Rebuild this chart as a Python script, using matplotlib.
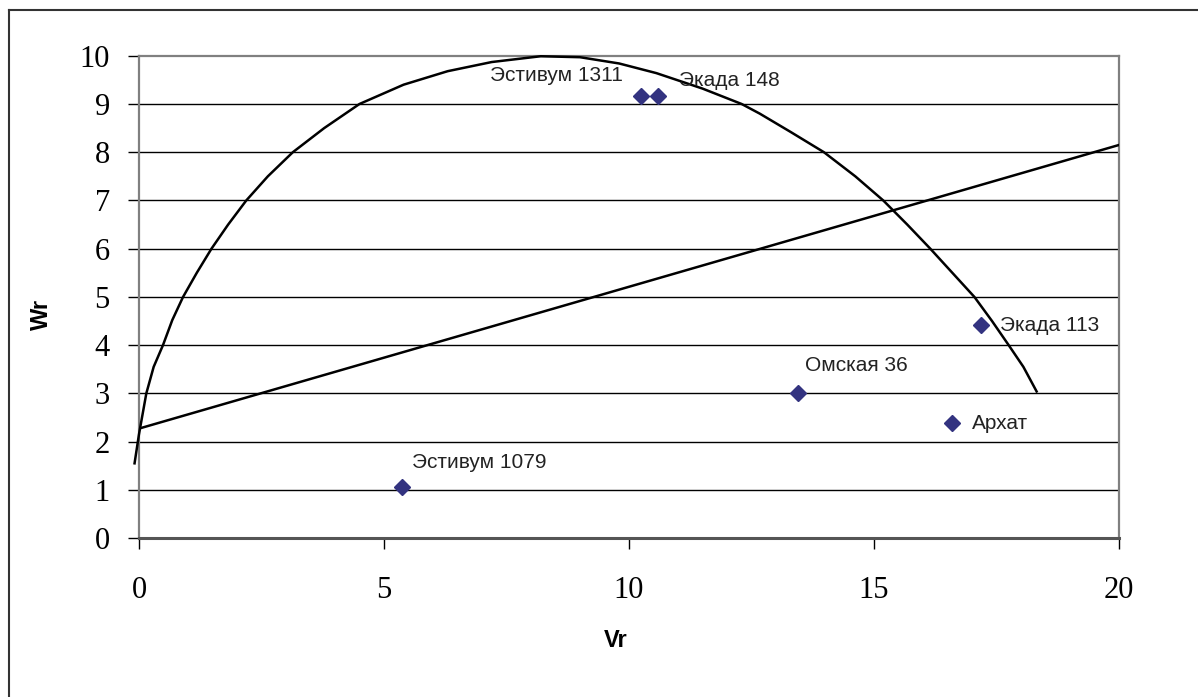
import matplotlib
matplotlib.use("Agg")
import matplotlib.pyplot as plt
from matplotlib.lines import Line2D

# ---- data ----
names = ["Эстивум 1079", "Эстивум 1311", "Экада 148", "Омская 36", "Архат", "Экада 113"]
vr = [5.37, 10.25, 10.6, 13.45, 16.6, 17.18]
wr = [1.05, 9.17, 9.17, 3.0, 2.38, 4.41]
# label offsets (points) and alignment for each name
label_pos = [((7, 11), "left", "bottom"),
             ((-13, 8), "right", "bottom"),
             ((15, 4), "left", "bottom"),
             ((5, 13), "left", "bottom"),
             ((14, 0), "left", "center"),
             ((14, 0), "left", "center")]

# regression line ends
line_x = [0, 20]
line_y = [2.27, 8.15]

# limiting curve, points
curve_x = [-0.09, 0.0, 0.15, 0.30, 0.49, 0.68, 0.90, 1.18, 1.48, 1.82, 2.19, 2.63,
           3.14, 3.78, 4.50, 5.40, 6.30, 7.20, 8.20, 9.00, 9.80, 10.56, 11.50,
           12.30, 12.67, 13.30, 13.98, 14.62, 15.19, 15.68, 16.15, 16.60, 17.05,
           17.41, 17.75, 18.05, 18.32]
curve_y = [1.55, 2.15, 3.0, 3.55, 4.0, 4.52, 5.0, 5.5, 6.0, 6.5, 7.0, 7.5,
           8.0, 8.5, 9.0, 9.4, 9.68, 9.87, 9.99, 9.97, 9.84, 9.64, 9.32,
           9.0, 8.8, 8.42, 8.0, 7.5, 7.0, 6.5, 6.0, 5.5, 5.0,
           4.5, 4.0, 3.55, 3.04]

x_ticks = [0, 5, 10, 15, 20]
y_ticks = list(range(0, 11))

# ================================== figure ==================================
fig = plt.figure(figsize=(11.98, 6.97), dpi=100)
ax = fig.add_axes([0.116, 0.228, 0.818, 0.692])

ax.set_xlim(0, 20)
ax.set_ylim(0, 10)

# horizontal grid
for yv in y_ticks[1:-1]:
    ax.axhline(yv, color="black", lw=1.0, zorder=1)

ax.plot(curve_x, curve_y, color="black", lw=1.8, clip_on=False, zorder=3,
        solid_joinstyle="round")
ax.plot(line_x, line_y, color="black", lw=1.8, zorder=3)
ax.plot(vr, wr, linestyle="none", marker="D", markersize=8,
        color="#333380", zorder=4)

for n, x, y, (off, ha, va) in zip(names, vr, wr, label_pos):
    ax.annotate(n, (x, y), xytext=off, textcoords="offset points",
                ha=ha, va=va, fontsize=15, family="Liberation Sans",
                color="#222222")

# ticks and spines
ax.set_xticks(x_ticks)
ax.set_yticks(y_ticks)
ax.tick_params(axis="both", direction="out", length=8, width=1, color="black",
               labelsize=22, labelfontfamily="Liberation Serif")
ax.tick_params(axis="y", pad=13)
ax.tick_params(axis="x", pad=19)
for s in ["left", "right", "top"]:
    ax.spines[s].set_color("#808080")
    ax.spines[s].set_linewidth(1.6)
ax.spines["bottom"].set_color("#555555")
ax.spines["bottom"].set_linewidth(2.2)

ax.set_xlabel("Vr", fontsize=17, fontweight="bold", family="Liberation Sans")
ax.set_ylabel("Wr", fontsize=17, fontweight="bold", family="Liberation Sans")
ax.xaxis.set_label_coords(0.486, -0.212)
ax.xaxis.label.set_va("center")
ax.yaxis.set_label_coords(-0.099, 0.463)
ax.yaxis.label.set_va("center")

# outer chart frame (cut off at right and bottom)
fig.add_artist(Line2D([9 / 1198, 9 / 1198], [0, 1 - 10 / 697],
                      transform=fig.transFigure, color="#333333", lw=1.5))
fig.add_artist(Line2D([9 / 1198, 1], [1 - 10 / 697, 1 - 10 / 697],
                      transform=fig.transFigure, color="#333333", lw=1.5))

fig.savefig("out.png", dpi=100, facecolor="white")
